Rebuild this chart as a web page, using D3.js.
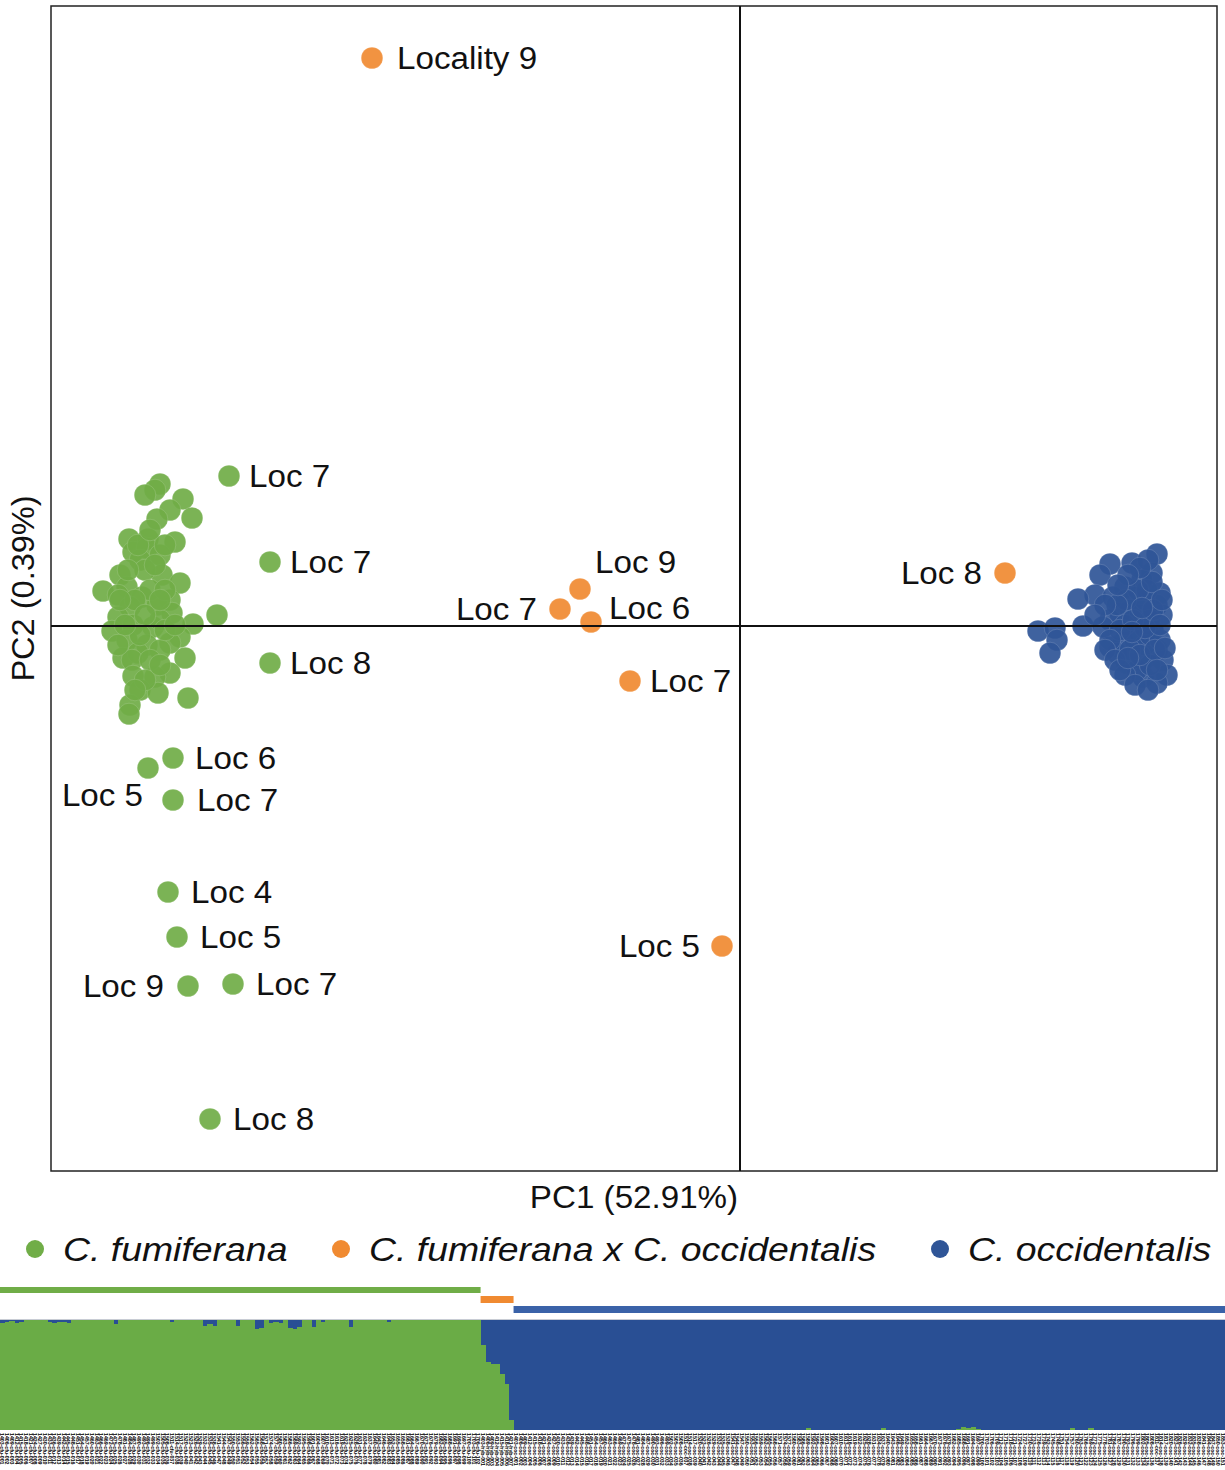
<!DOCTYPE html>
<html>
<head>
<meta charset="utf-8">
<script src="https://cdn.jsdelivr.net/npm/d3@7"></script>
<style>
  html, body { margin: 0; padding: 0; background: #fff; }
  svg { display: block; font-family: "Liberation Sans", Arial, sans-serif; }
</style>
</head>
<body>
<svg id="chart" width="1225" height="1470"></svg>
<script>
// ---- PCA scores (PC1, PC2) ----
const fumiferanaCluster = [
  [-5.80, 1.42], [-5.85, 1.36], [-5.95, 1.31], [-5.57, 1.27], [-5.70, 1.16], [-5.48, 1.08],
  [-5.83, 1.07], [-6.11, 0.87], [-5.92, 0.87], [-5.65, 0.84], [-6.07, 0.74], [-5.93, 0.78],
  [-5.80, 0.71], [-6.00, 0.66], [-6.20, 0.51], [-5.78, 0.51], [-5.60, 0.43], [-6.37, 0.35],
  [-6.13, 0.39], [-6.22, 0.31], [-5.98, 0.29], [-5.70, 0.26], [-5.23, 0.11], [-6.10, 0.19],
  [-5.83, 0.21], [-5.68, 0.13], [-6.22, 0.09], [-5.47, 0.02], [-6.28, -0.05], [-6.07, 0.01],
  [-5.87, -0.01], [-5.60, -0.11], [-6.13, -0.14], [-5.93, -0.19], [-5.70, -0.17], [-6.17, -0.32],
  [-6.02, -0.27], [-5.80, -0.24], [-5.55, -0.32], [-6.08, -0.34], [-6.07, -0.50], [-5.70, -0.47],
  [-5.85, -0.51], [-6.00, -0.64], [-5.82, -0.67], [-5.52, -0.72], [-6.10, -0.79], [-6.11, -0.88],
  [-5.95, 0.56], [-5.90, 0.36], [-6.05, 0.26], [-5.80, 0.06], [-5.95, 0.11], [-5.75, -0.04],
  [-5.90, -0.34], [-6.00, -0.09], [-6.12, 0.56], [-5.85, 0.61], [-5.75, 0.36], [-6.15, 0.01],
  [-5.95, -0.54], [-5.80, -0.39], [-6.20, 0.26], [-6.02, 0.81], [-5.75, 0.81], [-5.90, 0.96],
  [-5.65, 0.01], [-6.05, -0.64], [-6.22, -0.19], [-5.80, 0.26]
];
// labelled C. fumiferana outliers: [PC1, PC2, label]
const fumiferanaLabelled = [
  [-5.11, 1.50, "Loc 7"], [-4.70, 0.64, "Loc 7"], [-4.70, -0.37, "Loc 8"],
  [-5.67, -1.32, "Loc 6"], [-5.92, -1.42, "Loc 5"], [-5.67, -1.74, "Loc 7"],
  [-5.72, -2.66, "Loc 4"], [-5.63, -3.11, "Loc 5"], [-5.52, -3.60, "Loc 9"],
  [-5.07, -3.58, "Loc 7"], [-5.30, -4.93, "Loc 8"]
];
// hybrids C. fumiferana x C. occidentalis
const hybridPoints = [
  [-3.68, 5.68, "Locality 9"], [-1.60, 0.37, "Loc 9"], [-1.80, 0.17, "Loc 7"],
  [-1.49, 0.04, "Loc 6"], [-1.10, -0.55, "Loc 7"], [-0.18, -3.20, "Loc 5"],
  [2.65, 0.53, "Loc 8"]
];
const occidentalisCluster = [
  [4.17, 0.72], [3.92, 0.63], [3.70, 0.62], [3.60, 0.51], [4.12, 0.53], [4.02, 0.46],
  [3.85, 0.39], [3.55, 0.31], [3.38, 0.27], [3.73, 0.29], [4.20, 0.33], [4.17, 0.21],
  [4.22, 0.11], [3.95, 0.29], [3.80, 0.13], [3.70, 0.06], [3.43, 0.00], [3.63, -0.01],
  [2.98, -0.05], [3.15, -0.02], [3.17, -0.14], [3.10, -0.27], [3.70, -0.21], [3.83, -0.17],
  [4.00, -0.07], [4.13, -0.04], [4.17, -0.24], [3.87, -0.37], [4.03, -0.34], [4.23, -0.34],
  [4.27, -0.49], [4.03, -0.51], [4.17, -0.57], [3.97, -0.44], [3.77, -0.27],
  [3.90, 0.16], [4.00, 0.11], [4.05, 0.26], [4.10, 0.06], [3.95, -0.14], [4.05, -0.19],
  [4.10, -0.09], [3.85, 0.01], [3.90, -0.24], [4.10, -0.39], [4.00, -0.29], [3.80, -0.04],
  [4.20, -0.14], [4.07, 0.36], [3.98, 0.36], [4.12, 0.44], [3.93, 0.06], [4.05, -0.02],
  [4.15, -0.24], [3.86, 0.26], [3.77, 0.21], [4.13, 0.16],
  [3.70, -0.14], [3.65, -0.24], [3.75, -0.34], [3.85, -0.49], [3.95, -0.59], [4.08, -0.64],
  [4.20, 0.01], [4.08, 0.66], [4.00, 0.58], [3.88, 0.51], [3.78, 0.41], [3.65, 0.21],
  [3.55, 0.11], [3.80, -0.44], [4.22, 0.26], [4.25, -0.22], [3.92, -0.06], [4.02, 0.18],
  [3.88, -0.32], [4.17, -0.44]
];

const axisTitles = { x: "PC1 (52.91%)", y: "PC2 (0.39%)" };
const groupNames = ["C. fumiferana", "C. fumiferana x C. occidentalis", "C. occidentalis"];

// ---- admixture proportions (share of the C. fumiferana cluster, K = 2) ----
const fumiferanaQ = [
  0.97, 0.98, 0.99, 0.97, 0.98, 1, 1, 1, 1, 1,
  0.98, 0.97, 0.98, 0.98, 0.97, 1, 1, 1, 1, 1,
  1, 1, 1, 1, 0.96, 1, 1, 1, 1, 1,
  1, 1, 1, 1, 1, 1, 0.98, 1, 1, 1,
  1, 1, 1, 0.95, 0.96, 0.95, 1, 1, 1, 1,
  0.95, 1, 1, 1, 0.92, 0.93, 1, 0.97, 0.98, 0.97,
  1, 0.93, 0.92, 0.94, 1, 1, 0.94, 1, 0.98, 1,
  1, 1, 1, 1, 0.94, 1, 1, 1, 1, 1,
  1, 1, 0.98, 1, 1, 1, 1, 1, 1, 1,
  1, 1, 1, 1, 1, 1, 1, 1, 1, 1,
  1, 1
];
const hybridQ = [0.77, 0.62, 0.60, 0.60, 0.51, 0.42, 0.09];
const occidentalisQ = [
  0, 0, 0, 0, 0, 0, 0, 0, 0, 0,
  0, 0, 0, 0, 0, 0, 0, 0, 0, 0,
  0, 0, 0, 0, 0, 0, 0, 0, 0, 0,
  0, 0, 0, 0, 0, 0, 0, 0, 0, 0,
  0, 0, 0, 0, 0, 0, 0, 0, 0, 0,
  0, 0, 0, 0, 0, 0, 0, 0, 0, 0,
  0, 0, 0.02, 0, 0, 0, 0, 0, 0, 0,
  0, 0, 0, 0, 0, 0, 0, 0, 0.02, 0,
  0, 0, 0, 0, 0, 0, 0, 0, 0, 0,
  0, 0, 0, 0, 0.01, 0.03, 0.02, 0.03, 0.01, 0,
  0, 0, 0, 0, 0, 0, 0, 0, 0, 0,
  0, 0, 0, 0, 0, 0, 0, 0, 0.02, 0,
  0, 0, 0.02, 0, 0, 0, 0, 0, 0, 0,
  0, 0, 0, 0, 0, 0, 0, 0, 0, 0,
  0, 0, 0, 0, 0, 0, 0, 0, 0, 0,
  0
];

// ---- drawing ----
const COL = {
  fum: "#70ad47", hyb: "#f08a31", occ: "#2f5597",
  barFum: "#6aac46", barOcc: "#294f94", tagOcc: "#3a62a8"
};
const svg = d3.select("#chart");
const frame = { left: 51, right: 1217, top: 6, bottom: 1171 };
const STRETCH = 1.07;   // the figure's lettering is set slightly wide

const x = d3.scaleLinear().domain([-6.89, 4.77]).range([frame.left, frame.right]);
const y = d3.scaleLinear().domain([-5.45, 6.20]).range([frame.bottom, frame.top]);
const R = 10.8;

// plot frame
svg.append("rect")
  .attr("x", frame.left).attr("y", frame.top)
  .attr("width", frame.right - frame.left).attr("height", frame.bottom - frame.top)
  .attr("fill", "none").attr("stroke", "#222").attr("stroke-width", 1.5);

const pts = svg.append("g");
function drawDots(data, color) {
  pts.append("g").selectAll("circle").data(data).join("circle")
    .attr("cx", d => x(d[0])).attr("cy", d => y(d[1])).attr("r", R)
    .attr("fill", color).attr("fill-opacity", 0.92)
    .attr("stroke", "#fff").attr("stroke-opacity", 0.15).attr("stroke-width", 1);
}
drawDots(fumiferanaCluster, COL.fum);
drawDots(fumiferanaLabelled, COL.fum);
drawDots(occidentalisCluster, COL.occ);
drawDots(hybridPoints, COL.hyb);

// zero lines
svg.append("line").attr("x1", frame.left).attr("x2", frame.right)
  .attr("y1", y(0)).attr("y2", y(0)).attr("stroke", "#111").attr("stroke-width", 2);
svg.append("line").attr("x1", x(0)).attr("x2", x(0))
  .attr("y1", frame.top).attr("y2", frame.bottom).attr("stroke", "#111").attr("stroke-width", 2);

// point labels: side and offset for each labelled point
const fumPlace = [["r", 20, 0], ["r", 20, 0], ["r", 20, 0], ["r", 22, 0], ["l", -5, 27], ["r", 24, 0],
                  ["r", 23, 0], ["r", 23, 0], ["l", -24, 0], ["r", 23, 0], ["r", 23, 0]];
const hybPlace = [["r", 25, 0], ["r", 15, -27], ["l", -23, 0], ["r", 18, -14], ["r", 20, 0],
                  ["l", -22, 0], ["l", -23, 0]];
function drawLabels(data, place) {
  svg.append("g").selectAll("text").data(data).join("text")
    .attr("transform", (d, i) =>
      `translate(${x(d[0]) + place[i][1]},${y(d[1]) + place[i][2]}) scale(${STRETCH},1)`)
    .attr("dy", "0.36em")
    .attr("text-anchor", (d, i) => place[i][0] === "l" ? "end" : "start")
    .attr("font-size", 31).attr("fill", "#111")
    .text(d => d[2]);
}
drawLabels(fumiferanaLabelled, fumPlace);
drawLabels(hybridPoints, hybPlace);

// axis titles
svg.append("text")
  .attr("transform", `translate(${(frame.left + frame.right) / 2},1197) scale(${STRETCH},1)`)
  .attr("dy", "0.36em").attr("text-anchor", "middle").attr("font-size", 31).attr("fill", "#111")
  .text(axisTitles.x);
svg.append("text")
  .attr("transform", `translate(23,${(frame.top + frame.bottom) / 2}) rotate(-90) scale(1.05,1)`)
  .attr("dy", "0.36em").attr("text-anchor", "middle").attr("font-size", 31).attr("fill", "#111")
  .text(axisTitles.y);

// legend
const legendX = [35, 341, 940];
const legendCol = [COL.fum, COL.hyb, COL.occ];
const lg = svg.append("g").selectAll("g").data(groupNames).join("g")
  .attr("transform", (d, i) => `translate(${legendX[i]},1249)`);
lg.append("circle").attr("r", 9).attr("fill", (d, i) => legendCol[i]);
lg.append("text").attr("transform", "translate(28,0) scale(1.1,1)").attr("dy", "0.36em")
  .attr("font-size", 34).attr("font-style", "italic").attr("fill", "#111")
  .text(d => d);

// ---- STRUCTURE-style admixture bar plot ----
const groupCode = ["cfu", "hyb", "coc"];
const samples = [
  ...fumiferanaQ.map((q, i) => ({ q, grp: 0, n: i + 1 })),
  ...hybridQ.map((q, i) => ({ q, grp: 1, n: i + 1 })),
  ...occidentalisQ.map((q, i) => ({ q, grp: 2, n: i + 1 }))
];
const band = d3.scaleBand().domain(d3.range(samples.length)).range([0, 1225]).padding(0);
const qy = d3.scaleLinear().domain([0, 1]).range([1430, 1320]);
const bw = band.bandwidth();

const bars = svg.append("g").attr("shape-rendering", "crispEdges");
bars.selectAll("rect.occ").data(samples).join("rect").attr("class", "occ")
  .attr("x", (d, i) => band(i)).attr("width", bw + 0.6)
  .attr("y", qy(1)).attr("height", d => qy(d.q) - qy(1))
  .attr("fill", COL.barOcc);
bars.selectAll("rect.fum").data(samples).join("rect").attr("class", "fum")
  .attr("x", (d, i) => band(i)).attr("width", bw + 0.6)
  .attr("y", d => qy(d.q)).attr("height", d => qy(0) - qy(d.q))
  .attr("fill", COL.barFum);
svg.append("line").attr("x1", 0).attr("x2", 1225).attr("y1", 1319.5).attr("y2", 1319.5)
  .attr("stroke", "#c8ccd4").attr("stroke-width", 1);

// group indicator strips above the bars
const groupTags = [0, 1, 2].map(g => {
  const idx = samples.map((s, i) => s.grp === g ? i : -1).filter(i => i >= 0);
  return { g, x0: band(idx[0]), x1: band(idx[idx.length - 1]) + bw };
});
const tagY = [1287, 1296, 1306];
const tagH = [6, 7, 7];
const tagCol = [COL.fum, COL.hyb, COL.tagOcc];
svg.append("g").selectAll("rect").data(groupTags).join("rect")
  .attr("x", d => d.x0).attr("width", d => d.x1 - d.x0)
  .attr("y", d => tagY[d.g]).attr("height", d => tagH[d.g])
  .attr("fill", d => tagCol[d.g]);

// sample identifiers under the bars
svg.append("g").selectAll("text").data(samples).join("text")
  .attr("transform", (d, i) => `translate(${band(i) + 0.4},1433) rotate(90)`)
  .attr("font-size", 5.2).attr("fill", "#000").attr("font-weight", "bold")
  .text(d => `${1400 + d.n * 3}-${groupCode[d.grp]}-${String(d.n).padStart(3, "0")}`);
</script>
</body>
</html>
